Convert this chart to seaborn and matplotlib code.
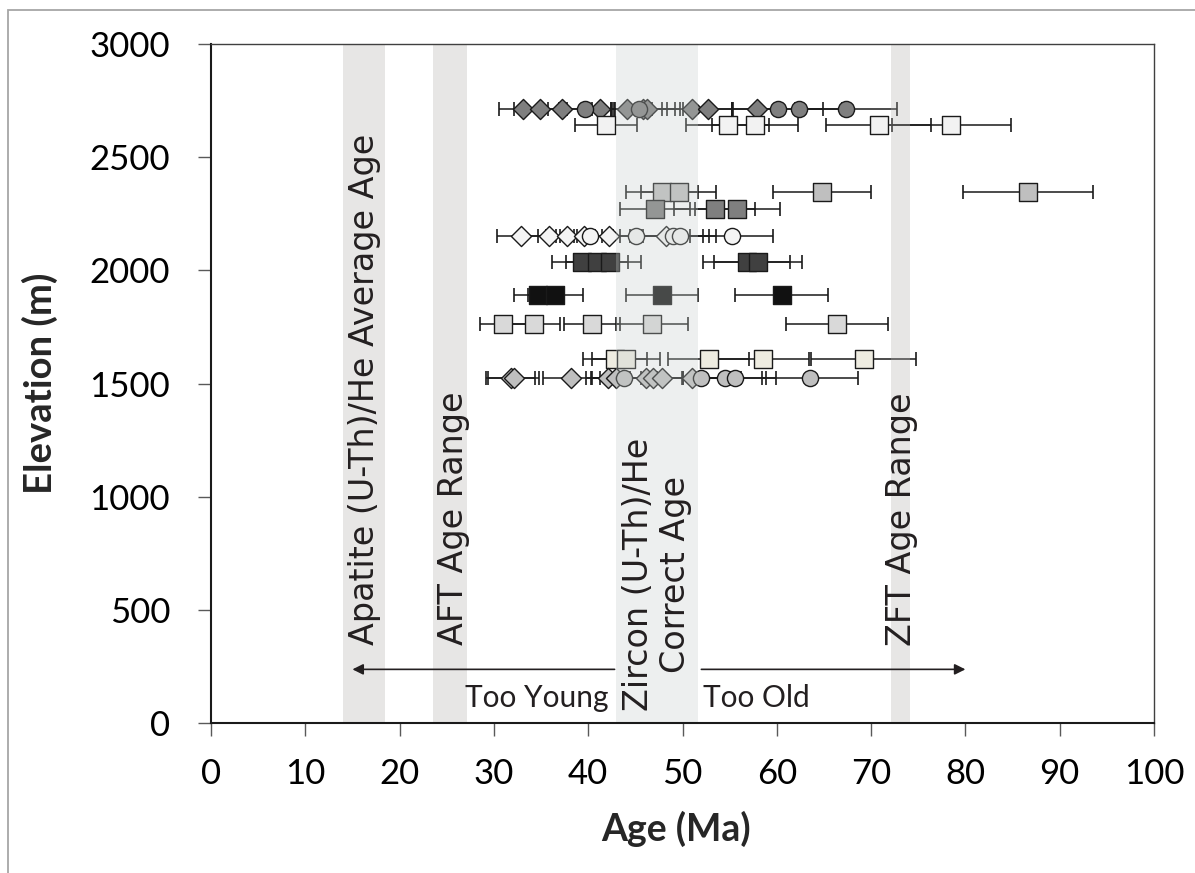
import numpy as np
import pandas as pd
import matplotlib
matplotlib.use("Agg")
import matplotlib.pyplot as plt
from matplotlib.patches import Rectangle
import seaborn as sns

# ---------------- data: (U-Th)/He ages (Ma) with 1-sigma errors, by sample elevation (m)
elev_a = 2715
age_a_diamond = [33.1, 34.9, 37.2, 41.3, 44.1, 45.8, 46.2, 51.0, 52.7, 57.9]
err_a_diamond = [2.6, 2.8, 2.5, 1.5, 3.7, 3.4, 3.5, 4.2, 2.7, 2.6]
age_a_circle = [39.7, 45.4, 60.1, 62.4, 67.3]
err_a_circle = [2.8, 3.0, 4.8, 4.5, 5.4]

elev_b = 2640
age_b = [41.9, 54.8, 57.7, 70.8, 78.5]
err_b = [3.3, 4.4, 4.6, 5.6, 6.3]

elev_c = 2345
age_c = [47.8, 49.6, 64.8, 86.6]
err_c = [3.8, 4.0, 5.2, 6.9]

elev_d = 2270
age_d = [47.1, 53.4, 55.8]
err_d = [3.7, 4.3, 4.5]

elev_e = 2153
age_e_diamond = [32.9, 35.8, 37.7, 39.6, 42.2, 48.3]
err_e_diamond = [2.6, 2.7, 3.0, 3.0, 3.4, 3.9]
age_e_circle = [40.2, 45.1, 49.0, 49.7, 55.2]
err_e_circle = [3.2, 3.6, 3.8, 3.9, 4.4]

elev_f = 2035
age_f = [39.3, 40.9, 42.3, 56.8, 58.0]
err_f = [3.1, 3.3, 3.3, 4.6, 4.7]

elev_g = 1890
age_g = [34.7, 36.5, 47.8, 60.5]
err_g = [2.6, 2.9, 3.8, 4.9]

elev_h = 1765
age_h = [31.0, 34.2, 40.4, 46.8, 66.4]
err_h = [2.5, 2.8, 3.0, 3.8, 5.4]

elev_i = 1610
age_i = [42.8, 44.0, 52.8, 58.5, 69.2]
err_i = [3.4, 3.6, 4.3, 4.9, 5.6]

elev_j = 1525
age_j_diamond = [31.8, 32.1, 38.2, 42.1, 43.0, 46.1, 46.9, 47.8, 51.0]
err_j_diamond = [2.6, 2.7, 3.0, 2.3, 2.6, 3.8, 3.2, 3.9, 4.1]
age_j_circle = [43.8, 52.0, 54.5, 55.6, 63.5]
err_j_circle = [3.5, 4.2, 4.4, 4.3, 5.1]

# reference age windows (Ma)
apatite_band = (14.0, 18.4)
aft_band = (23.5, 27.2)
zircon_band = (42.9, 51.6)
zft_band = (72.1, 74.1)

x_ticks = list(range(0, 101, 10))
y_ticks = list(range(0, 3001, 500))

# ---------------- figure
sns.set_theme(style="white")
plt.rcParams["font.family"] = ["Lato", "DejaVu Sans"]

fig = plt.figure(figsize=(11.95, 8.73), dpi=100)
ax = fig.add_axes([211 / 1195, 1 - 723 / 873, (1154 - 211) / 1195, (723 - 44) / 873])

# outer frame of the graphic
fig.patches.append(Rectangle((8 / 1195, -0.2), 1.3, 1.2 - 10 / 873,
                             transform=fig.transFigure, fill=False,
                             edgecolor="#a6a6a6", linewidth=1.3, zorder=0))

groups = [
    (age_a_diamond, err_a_diamond, elev_a, "D", "#7f7f7f"),
    (age_a_circle, err_a_circle, elev_a, "o", "#7f7f7f"),
    (age_b, err_b, elev_b, "s", "#f2f2f2"),
    (age_c, err_c, elev_c, "s", "#bfbfbf"),
    (age_d, err_d, elev_d, "s", "#7f7f7f"),
    (age_e_diamond, err_e_diamond, elev_e, "D", "#f4f4f4"),
    (age_e_circle, err_e_circle, elev_e, "o", "#f4f4f4"),
    (age_f, err_f, elev_f, "s", "#404040"),
    (age_g, err_g, elev_g, "s", "#111111"),
    (age_h, err_h, elev_h, "s", "#d9d9d9"),
    (age_i, err_i, elev_i, "s", "#eeece1"),
    (age_j_diamond, err_j_diamond, elev_j, "D", "#bfbfbf"),
    (age_j_circle, err_j_circle, elev_j, "o", "#bfbfbf"),
]
sizes = {"s": 165, "D": 105, "o": 135}

for ages, errs, elev, mk, col in groups:
    df = pd.DataFrame({"age": ages, "err": errs, "elev": [elev] * len(ages)})
    ax.errorbar(df["age"], df["elev"], xerr=df["err"], fmt="none",
                ecolor="#1a1a1a", elinewidth=1.1, capsize=5, capthick=1.2, zorder=2)
    sns.scatterplot(data=df, x="age", y="elev", marker=mk, color=col,
                    s=sizes[mk], edgecolor="#1a1a1a", linewidth=1.0,
                    ax=ax, zorder=3, legend=False)

# translucent age windows
for lo, hi in (apatite_band, aft_band, zft_band):
    ax.axvspan(lo, hi, color="#b2afac", alpha=0.3, lw=0, zorder=4)
ax.axvspan(*zircon_band, color="#c6cdca", alpha=0.3, lw=0, zorder=4)

band_font = dict(rotation=90, fontsize=24, color="#231f20",
                 family=["DejaVu Sans"], zorder=5)
ax.text(16.3, 345, "Apatite (U-Th)/He Average Age", ha="center", va="bottom", **band_font)
ax.text(25.7, 345, "AFT Age Range", ha="center", va="bottom", **band_font)
ax.text(73.2, 340, "ZFT Age Range", ha="center", va="bottom", **band_font)
ax.text(47.3, 658, "Zircon (U-Th)/He\nCorrect Age", ha="center", va="center",
        multialignment="center", linespacing=1.15, **band_font)

arrow = dict(arrowstyle="-|>", lw=1.2, color="#231f20", mutation_scale=16,
             shrinkA=0, shrinkB=0)
ax.annotate("", xy=(15.0, 237), xytext=(42.8, 237), arrowprops=arrow, zorder=5)
ax.annotate("", xy=(80.0, 237), xytext=(52.0, 237), arrowprops=arrow, zorder=5)
ax.text(42.1, 112, "Too Young", fontsize=21.5, color="#231f20", ha="right", va="center", zorder=5)
ax.text(52.2, 112, "Too Old", fontsize=21.5, color="#231f20", ha="left", va="center", zorder=5)

# axes
ax.set_xlim(0, 100)
ax.set_ylim(0, 3000)
ax.set_xticks(x_ticks)
ax.set_yticks(y_ticks)
ax.tick_params(axis="both", which="major", direction="out", length=9.5, width=1.0,
               color="#595959", labelsize=25, labelcolor="black")
ax.tick_params(axis="y", pad=20, left=True)
ax.tick_params(axis="x", pad=16, bottom=True)
for side in ("left", "bottom"):
    ax.spines[side].set_linewidth(1.5)
    ax.spines[side].set_color("#1a1a1a")
for side in ("top", "right"):
    ax.spines[side].set_linewidth(1.0)
    ax.spines[side].set_color("#404040")
for s in ax.spines.values():
    s.set_zorder(6)

ax.set_xlabel("Age (Ma)", fontsize=27, fontweight="bold")
ax.set_ylabel("Elevation (m)", fontsize=27.5, fontweight="bold")
ax.xaxis.set_label_coords((676 - 211) / 943, -(829 - 723) / 679)
ax.yaxis.set_label_coords((40 - 211) / 943, 0.5)
ax.xaxis.label.set_va("center")
ax.yaxis.label.set_va("center")

fig.savefig("out.png", dpi=100)
